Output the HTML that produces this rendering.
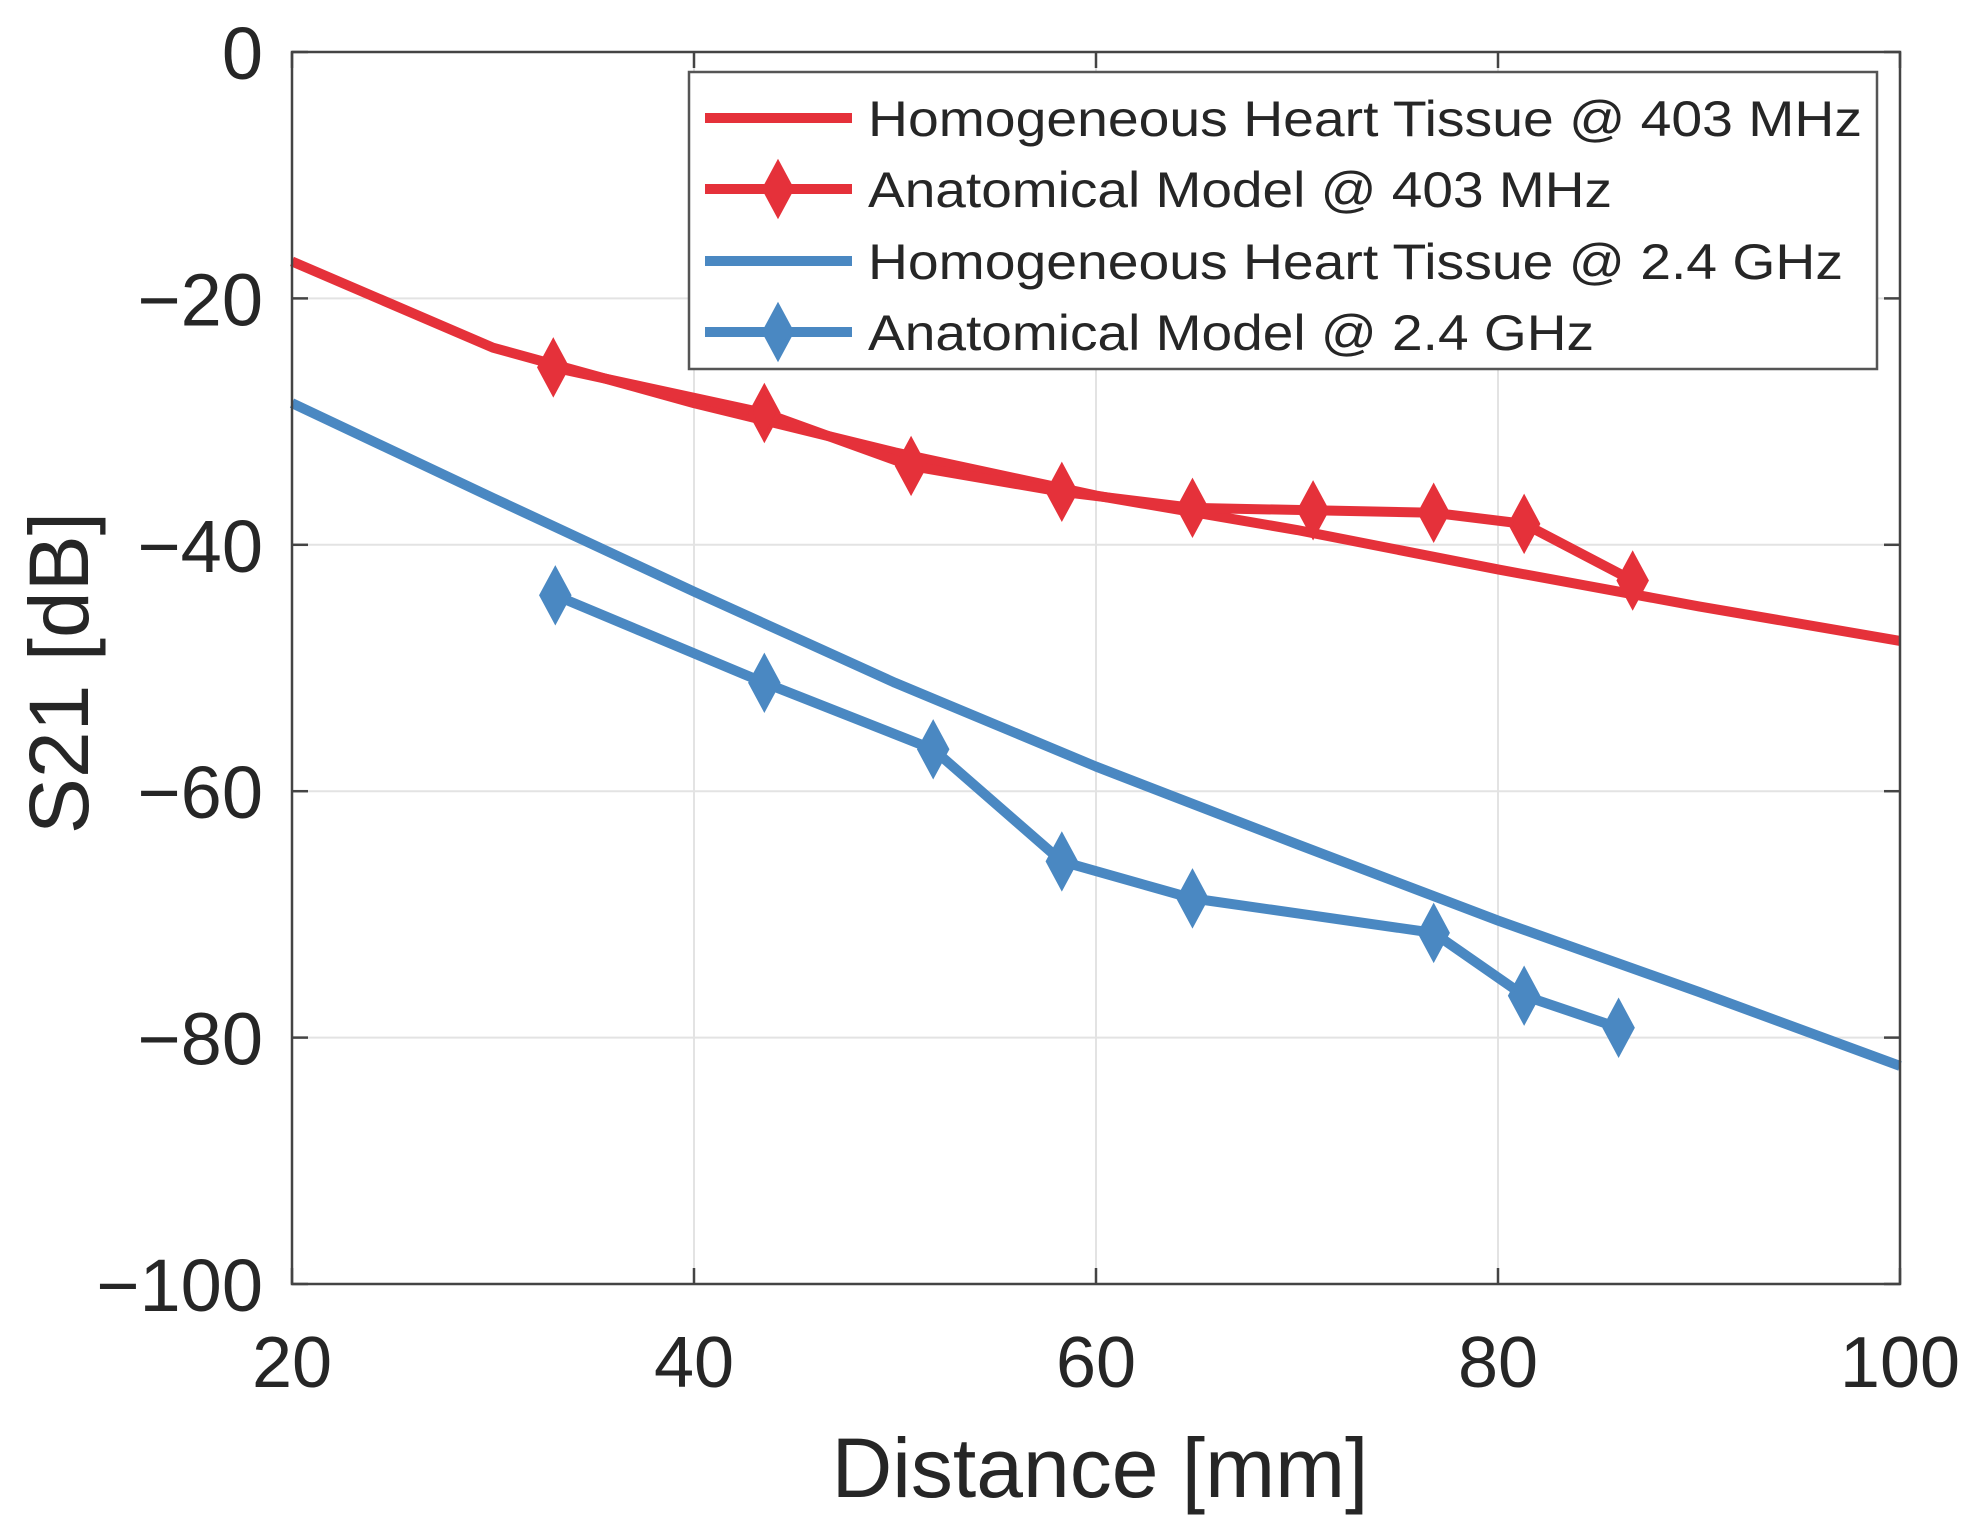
<!DOCTYPE html>
<html><head><meta charset="utf-8"><style>body{margin:0;background:#fff}svg{display:block;font-family:"Liberation Sans",Arial,sans-serif}</style></head>
<body>
<svg id="chart" width="1983" height="1535" viewBox="0 0 1983 1535">
<g id="grid"></g>
<g id="series"></g>
<rect x="292" y="52" width="1608" height="1232" fill="none" stroke="#444" stroke-width="2.5"/>
<g id="ticks"></g>
<text x="1100" y="1497" font-size="84" fill="#262626" text-anchor="middle">Distance [mm]</text>
<text x="0" y="0" font-size="84" fill="#262626" text-anchor="middle" transform="translate(88,673) rotate(-90)">S21 [dB]</text>
<g id="legend"></g>
</svg>
<script>
const xTicks=[20,40,60,80,100];
const yTicks=[0,-20,-40,-60,-80,-100];
const homo403X=[20,30,40,50,60,70,80,90,100];
const homo403Y=[-17,-24,-28.5,-32.5,-36,-38.8,-42,-45,-47.8];
const anat403X=[33,43.5,50.8,58.3,64.8,70.8,76.8,81.3,86.7];
const anat403Y=[-25.6,-29.3,-33.6,-35.7,-37,-37.2,-37.4,-38.3,-42.9];
const homo24X=[20,30,40,50,60,70,80,90,100];
const homo24Y=[-28.5,-36.2,-43.8,-51.2,-58,-64.3,-70.5,-76.3,-82.3];
const anat24X=[33.1,43.5,51.9,58.3,64.8,76.8,81.3,86];
const anat24Y=[-44.1,-51.2,-56.6,-65.7,-68.7,-71.5,-76.6,-79.2];
const legendLabels=["Homogeneous Heart Tissue @ 403 MHz","Anatomical Model @ 403 MHz","Homogeneous Heart Tissue @ 2.4 GHz","Anatomical Model @ 2.4 GHz"];
const legendLens=[994,744,975,726];
const L=292,R=1900,T=52,B=1284;
const sx=v=>L+(v-20)/80*(R-L);
const sy=v=>T+(0-v)/100*(B-T);
const NS="http://www.w3.org/2000/svg";
function mk(tag,attrs,parent){const e=document.createElementNS(NS,tag);for(const k in attrs)e.setAttribute(k,attrs[k]);parent.appendChild(e);return e;}
const grid=document.getElementById('grid'),ticks=document.getElementById('ticks'),series=document.getElementById('series'),legend=document.getElementById('legend');
xTicks.forEach(v=>{
 const g=mk('line',{x1:sx(v),x2:sx(v),y1:T,y2:B,stroke:'#e3e3e3','stroke-width':2},grid);
 
 
 const t1=mk('line',{x1:sx(v),x2:sx(v),y1:B,y2:B-16,stroke:'#444','stroke-width':2.5},ticks);
 
 
 const t2=mk('line',{x1:sx(v),x2:sx(v),y1:T,y2:T+16,stroke:'#444','stroke-width':2.5},ticks);
 
 
 const tx=mk('text',{x:sx(v),y:1387,'font-size':72,fill:'#262626','text-anchor':'middle'},ticks);
 tx.textContent=v;
 
 
});
yTicks.forEach(v=>{
 const g=mk('line',{x1:L,x2:R,y1:sy(v),y2:sy(v),stroke:'#e3e3e3','stroke-width':2},grid);
 
 
 const t1=mk('line',{x1:L,x2:L+16,y1:sy(v),y2:sy(v),stroke:'#444','stroke-width':2.5},ticks);
 
 
 const t2=mk('line',{x1:R,x2:R-16,y1:sy(v),y2:sy(v),stroke:'#444','stroke-width':2.5},ticks);
 
 
 const tx=mk('text',{x:263,y:sy(v)+27,'font-size':74,fill:'#262626','text-anchor':'end'},ticks);
 tx.textContent=v<0?'\u2212'+(-v):String(v);
 
 
});
function diamond(cx,cy,col,parent){
 return mk('polygon',{points:`${cx},${cy-26} ${cx+14},${cy} ${cx},${cy+26} ${cx-14},${cy}`,fill:col,stroke:col,'stroke-width':4},parent);
}
function drawSeries(xs,ys,col,markers,name){
 const g=mk('g',{},series);
 
 
 const p=mk('polyline',{points:xs.map((x,i)=>sx(x)+','+sy(ys[i])).join(' '),fill:'none',stroke:col,'stroke-width':10,'stroke-linejoin':'round'},g);
 
 
 if(markers)xs.forEach((x,i)=>{
  const d=diamond(sx(x),sy(ys[i]),col,g);
  
  
 });
}
const RED='#e5313a',BLUE='#4a88c2';
drawSeries(homo24X,homo24Y,BLUE,false,'homogeneous-2-4ghz');
drawSeries(anat24X,anat24Y,BLUE,true,'anatomical-2-4ghz');
drawSeries(homo403X,homo403Y,RED,false,'homogeneous-403mhz');
drawSeries(anat403X,anat403Y,RED,true,'anatomical-403mhz');
const box=mk('rect',{x:689,y:72,width:1188,height:297,fill:'#fff',stroke:'#555','stroke-width':2.5},legend);


const cols=[RED,RED,BLUE,BLUE],mks=[false,true,false,true],ly=[118,189,261,332];
legendLabels.forEach((lab,i)=>{
 const g=mk('g',{},legend);
 
 
 mk('line',{x1:705,x2:852,y1:ly[i],y2:ly[i],stroke:cols[i],'stroke-width':10},g);
 if(mks[i])diamond(778,ly[i],cols[i],g);
 const t=mk('text',{x:868,y:ly[i]+18,'font-size':50,fill:'#262626',textLength:legendLens[i],lengthAdjust:'spacingAndGlyphs'},g);
 t.textContent=lab;
 
 
});
</script>
</body></html>
